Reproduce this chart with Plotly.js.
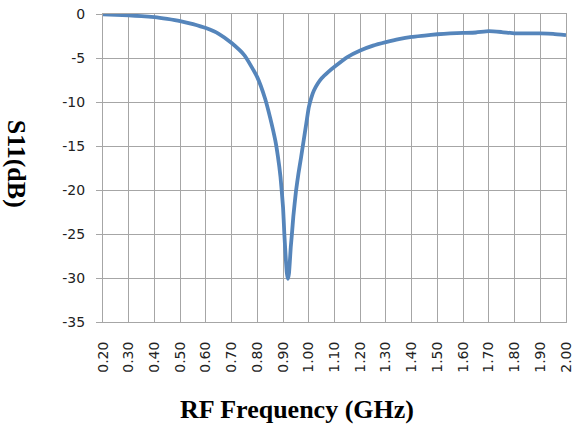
<!DOCTYPE html>
<html>
<head>
<meta charset="utf-8">
<script src="https://cdn.plot.ly/plotly-3.0.1.min.js"></script>
<style>html,body{margin:0;padding:0;background:#fff;}#chart{width:574px;height:427px;}</style>
</head>
<body>
<div id="chart"></div>
<script>
const freqGHz = [0.20,0.25,0.30,0.35,0.40,0.45,0.50,0.55,0.60,0.65,0.70,0.75,0.80,0.83,0.85,0.87,0.88,0.89,0.90,0.905,0.91,0.915,0.919,0.923,0.93,0.935,0.94,0.95,0.96,0.97,0.98,0.99,1.00,1.01,1.02,1.035,1.05,1.075,1.10,1.15,1.20,1.25,1.30,1.35,1.40,1.45,1.50,1.55,1.60,1.65,1.70,1.75,1.80,1.85,1.90,1.95,2.00];
const s11dB = [-0.05,-0.1,-0.15,-0.25,-0.35,-0.55,-0.8,-1.15,-1.6,-2.25,-3.3,-4.7,-7.2,-9.6,-11.8,-14.4,-16.2,-18.5,-22.0,-25.0,-27.5,-29.5,-30.1,-29.5,-26.5,-24.8,-23.0,-20.2,-18.1,-16.3,-14.4,-12.5,-10.6,-9.5,-8.7,-7.9,-7.3,-6.6,-6.0,-4.9,-4.15,-3.6,-3.2,-2.85,-2.6,-2.45,-2.3,-2.2,-2.15,-2.1,-1.95,-2.05,-2.2,-2.2,-2.2,-2.25,-2.4];
const yTickVals = [0,-5,-10,-15,-20,-25,-30,-35];
const yTickText = ['0','-5','-10','-15','-20','-25','-30','-35'];
const yTitle = 'S11(dB)';
const xTitle = 'RF Frequency (GHz)';

const gridCol = '#a6a6a6';
const tickFont = {family: 'DejaVu Sans', size: 14, color: '#222'};

Plotly.newPlot('chart', [{
  x: freqGHz, y: s11dB, type: 'scatter', mode: 'lines',
  line: {color: '#5585bb', width: 3.8, shape: 'spline', smoothing: 0.5}
}], {
  width: 574, height: 427,
  margin: {l: 103, r: 8, t: 14, b: 105},
  paper_bgcolor: '#fff', plot_bgcolor: '#fff',
  showlegend: false,
  xaxis: {
    range: [0.2, 2.0], tick0: 0.2, dtick: 0.1, tickformat: '.2f',
    tickangle: -90, ticks: '', tickfont: tickFont, ticklabelstandoff: 13,
    showgrid: true, gridcolor: gridCol, gridwidth: 1,
    showline: true, linecolor: gridCol, linewidth: 1, mirror: true,
    zeroline: false, fixedrange: true
  },
  yaxis: {
    range: [-35, 0], tickmode: 'array', tickvals: yTickVals, ticktext: yTickText,
    ticks: 'outside', ticklen: 6, tickcolor: gridCol,
    tickfont: tickFont, ticklabelstandoff: 8,
    showgrid: true, gridcolor: gridCol, gridwidth: 1,
    showline: true, linecolor: gridCol, linewidth: 1, mirror: true,
    zeroline: false, fixedrange: true
  },
  annotations: [
    {text: '<b>' + yTitle + '</b>', xref: 'paper', yref: 'paper', x: -0.1864, y: 0.515,
     xanchor: 'center', yanchor: 'middle', textangle: 90, showarrow: false,
     font: {family: 'Liberation Serif', size: 26, color: '#000'}},
    {text: '<b>' + xTitle + '</b>', xref: 'paper', yref: 'paper', x: 0.418, y: -0.284,
     xanchor: 'center', yanchor: 'middle', showarrow: false,
     font: {family: 'Liberation Serif', size: 26, color: '#000'}}
  ]
}, {displayModeBar: false, staticPlot: true});
</script>
</body>
</html>
